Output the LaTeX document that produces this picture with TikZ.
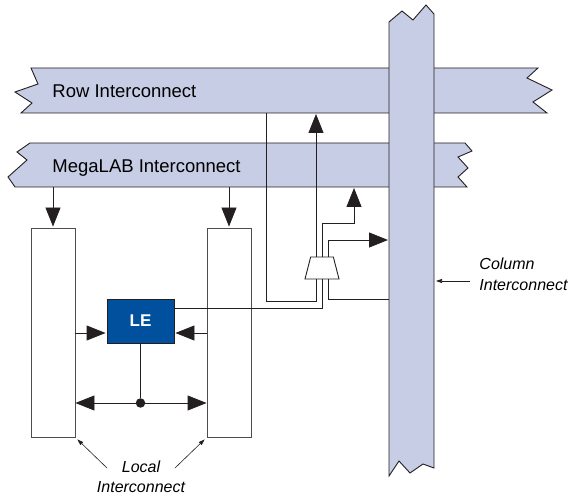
\documentclass[tikz,border=0pt]{standalone}
\usepackage{fontspec}
\setmainfont{Liberation Sans}
\usetikzlibrary{arrows.meta,shapes.geometric}

\definecolor{busfill}{RGB}{200,205,230}
\definecolor{leblue}{RGB}{0,80,158}
\definecolor{ink}{RGB}{35,31,32}

\begin{document}
\begin{tikzpicture}[x=1pt,y=-1pt,>={Triangle[length=19pt,width=15pt]},line width=0.9pt,draw=ink,
		bus/.style={draw=ink,fill=busfill,line join=miter},
		lane/.style={draw=ink!80,fill=white,minimum width=44pt,minimum height=209pt,inner sep=0pt},
		cell/.style={draw=ink,fill=leblue,text=white,font=\bfseries\fontsize{17}{20}\selectfont,minimum width=67pt,minimum height=44pt,inner sep=0pt},
		mux/.style={draw=ink,fill=white,trapezium,trapezium angle=76,trapezium stretches=true,minimum width=34pt,minimum height=22pt,inner sep=2pt},
		buslbl/.style={anchor=base west,inner sep=0pt,font=\fontsize{18.5}{21}\selectfont},
		note/.style={inner sep=0pt,align=left,font=\itshape\fontsize{16}{20.5}\selectfont},
		flow/.style={->,shorten >=1pt},
		tip/.style={-{Triangle[length=6pt,width=4pt]},line width=0.6pt},
		jdot/.style={circle,fill=ink,inner sep=0pt,minimum size=9.5pt}]
		\useasboundingbox (0,0) rectangle (571,497);

		% the three interconnect bands
		\draw[bus] (31,68) -- (38,84) -- (15,92) -- (32,103) -- (21,113) -- (547,113) -- (533,102) -- (552,90) -- (527,78) -- (538,68) -- cycle;
		\draw[bus] (30,143) -- (17,152) -- (27,160) -- (8,177) -- (15,187) -- (467,187) -- (458,177) -- (468,168) -- (458,157) -- (472,151) -- (465,143) -- cycle;
		\draw[bus] (389,22) -- (402,11) -- (413,20) -- (426,5) -- (434,14) -- (434,468) -- (423,464) -- (410,473) -- (399,461) -- (389,476) -- cycle;

		\node[buslbl] (rowlbl) at (52,98) {Row Interconnect};
		\node[buslbl] (megalbl) at (52,173) {MegaLAB Interconnect};

		\coordinate (rowtap) at (266,113);
		\coordinate (rowin) at (316,113);
		\coordinate (megain) at (354,187);
		\coordinate (colout) at (389,240);
		\coordinate (colin) at (389,299);
		\coordinate (mbotl) at (53,187);
		\coordinate (mbotr) at (229,187);

		\node[lane] (lbox) at (53,332.5) {};
		\node[lane] (rbox) at (229,332.5) {};
		\node[cell] (le) at (140.5,321) {LE};
		\node[mux] (mx) at (322,268) {};

		\draw[flow] (mbotl) -- (lbox.north);
		\draw[flow] (mbotr) -- (rbox.north);

		% local lines into and out of the LE
		\coordinate (lein) at ([yshift=-12pt]le.west);
		\coordinate (rein) at ([yshift=-12pt]le.east);
		\draw[flow] (lbox.east |- lein) -- (lein);
		\draw[flow] (rbox.west |- rein) -- (rein);
		\node[jdot] (jn) at (140.5,403) {};
		\draw (le) -- (jn);
		\draw[<->] (lbox.east |- jn) -- (rbox.west |- jn);

		% mux wiring
		\draw ([yshift=13pt]le.east) -| (mx.south);
		\draw (rowtap) |- (316,301) -- ([xshift=-6pt]mx.south);
		\draw ([xshift=6pt]mx.south) |- (colin);
		\draw[flow] ([xshift=-6pt]mx.north) -- (rowin);
		\draw[flow] (mx.north) |- (354,223) -- (megain);
		\draw[flow] ([xshift=6pt]mx.north) |- (colout);

		% labels
		\node[note,anchor=west] (colbl) at (479,274.5) {Column\\Interconnect};
		\coordinate (colR) at (436,281);
		\draw[tip] ([xshift=-9pt,yshift=-6.5pt]colbl.west) -- (colR);
		\node[note,align=center] (loclbl) at (141,477) {Local\\Interconnect};
		\coordinate (lt1) at (107,468);
		\coordinate (lt2) at (175,468);
		\draw[tip] (lt1) -- ([shift={(2pt,-2pt)}]lbox.south east);
		\draw[tip] (lt2) -- ([shift={(-2pt,-2pt)}]rbox.south west);
	\end{tikzpicture}
\end{document}
